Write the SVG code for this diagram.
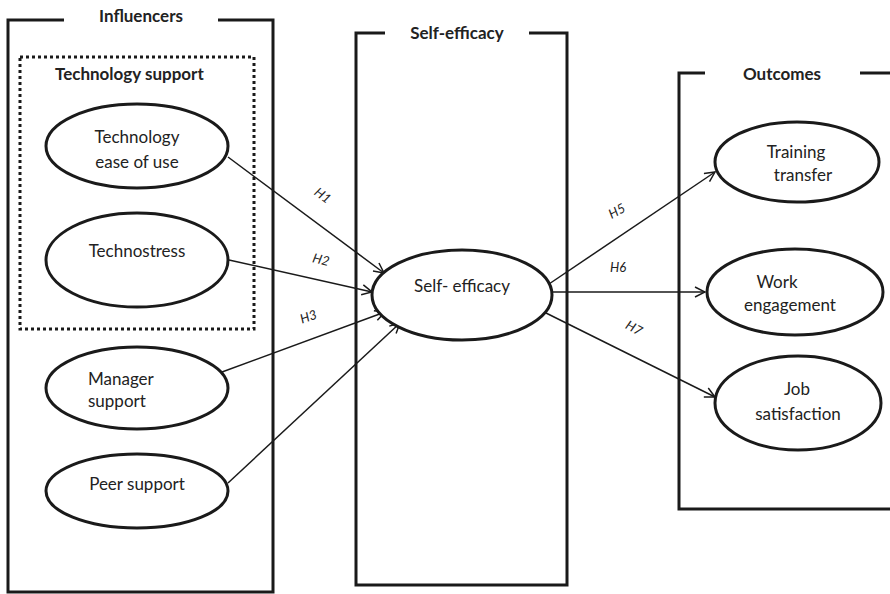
<svg xmlns="http://www.w3.org/2000/svg" width="890" height="594" viewBox="0 0 890 594">
<defs>
<style>
.box{fill:none;stroke:#1a1a1a;stroke-width:3}
.dot{fill:none;stroke:#1a1a1a;stroke-width:3;stroke-dasharray:3 3}
.ell{fill:#fff;stroke:#1a1a1a;stroke-width:3}
.t{font-family:Lato,"Open Sans","Liberation Sans",sans-serif;font-size:17px;fill:#222}
.b{font-weight:bold;font-size:17px}
.c{text-anchor:middle}
.h{font-family:Lato,"Open Sans","Liberation Sans",sans-serif;font-size:13px;font-style:italic;fill:#222;text-anchor:middle}
.ar{fill:none;stroke:#1a1a1a;stroke-width:1.5;marker-end:url(#arr)}
</style>
<marker id="arr" viewBox="0 0 12 12" refX="11" refY="6" markerWidth="12" markerHeight="12" markerUnits="userSpaceOnUse" orient="auto">
<path d="M1,1 L11,6 L1,11" fill="none" stroke="#1a1a1a" stroke-width="1.5"/>
</marker>
</defs>
<rect width="890" height="594" fill="#fff"/>

<g id="influencers">
<path class="box" d="M64,20 H8 V592 H273 V20 H218"/>
<text class="t b c" x="141" y="22">Influencers</text>
</g>
<g id="technology-support">
<rect class="dot" x="20" y="57" width="234" height="272"/>
<text class="t b" x="55" y="80">Technology support</text>
</g>
<g id="selfefficacy-box">
<path class="box" d="M385,33 H356 V585 H567 V33 H529"/>
<text class="t b c" x="457" y="39">Self-efficacy</text>
</g>
<g id="outcomes">
<path class="box" d="M705,73 H679 V509 H890 M860,73 H890"/>
<text class="t b c" x="782" y="80">Outcomes</text>
</g>

<g id="connectors">
<line class="ar" x1="228" y1="157" x2="384" y2="273"/>
<line class="ar" x1="229" y1="260" x2="372" y2="292"/>
<line class="ar" x1="222" y1="372" x2="385" y2="312"/>
<line class="ar" x1="228" y1="483" x2="400" y2="323"/>
<line class="ar" x1="549" y1="284" x2="715" y2="172"/>
<line class="ar" x1="553" y1="292" x2="705" y2="292"/>
<line class="ar" x1="546" y1="313" x2="715" y2="397"/>
<text class="h" transform="translate(320,199) rotate(37)">H1</text>
<text class="h" transform="translate(320,264) rotate(14)">H2</text>
<text class="h" transform="translate(310,321) rotate(-20)">H3</text>
<text class="h" transform="translate(619,215) rotate(-28)">H5</text>
<text class="h" x="618" y="272">H6</text>
<text class="h" transform="translate(632,332) rotate(28)">H7</text>
</g>

<g id="tech-ease">
<ellipse class="ell" cx="137" cy="146" rx="91" ry="42"/>
<text class="t c" x="137" y="143">Technology</text>
<text class="t c" x="137" y="168">ease of use</text>
</g>
<g id="technostress">
<ellipse class="ell" cx="137" cy="260" rx="91" ry="47"/>
<text class="t c" x="137" y="257">Technostress</text>
</g>
<g id="manager-support">
<ellipse class="ell" cx="137" cy="388" rx="91" ry="41"/>
<text class="t" x="88" y="385">Manager</text>
<text class="t" x="88" y="407">support</text>
</g>
<g id="peer-support">
<ellipse class="ell" cx="137" cy="491" rx="91" ry="37"/>
<text class="t c" x="137" y="490">Peer support</text>
</g>
<g id="self-efficacy">
<ellipse class="ell" cx="462" cy="295" rx="90" ry="45"/>
<text class="t c" x="462" y="292">Self- efficacy</text>
</g>
<g id="training-transfer">
<ellipse class="ell" cx="797" cy="162" rx="82" ry="40"/>
<text class="t c" x="796" y="158">Training</text>
<text class="t c" x="803" y="181">transfer</text>
</g>
<g id="work-engagement">
<ellipse class="ell" cx="795" cy="292" rx="88" ry="43"/>
<text class="t c" x="777" y="288">Work</text>
<text class="t c" x="790" y="311">engagement</text>
</g>
<g id="job-satisfaction">
<ellipse class="ell" cx="798" cy="403" rx="83" ry="47"/>
<text class="t c" x="797" y="395">Job</text>
<text class="t c" x="798" y="420">satisfaction</text>
</g>
</svg>
